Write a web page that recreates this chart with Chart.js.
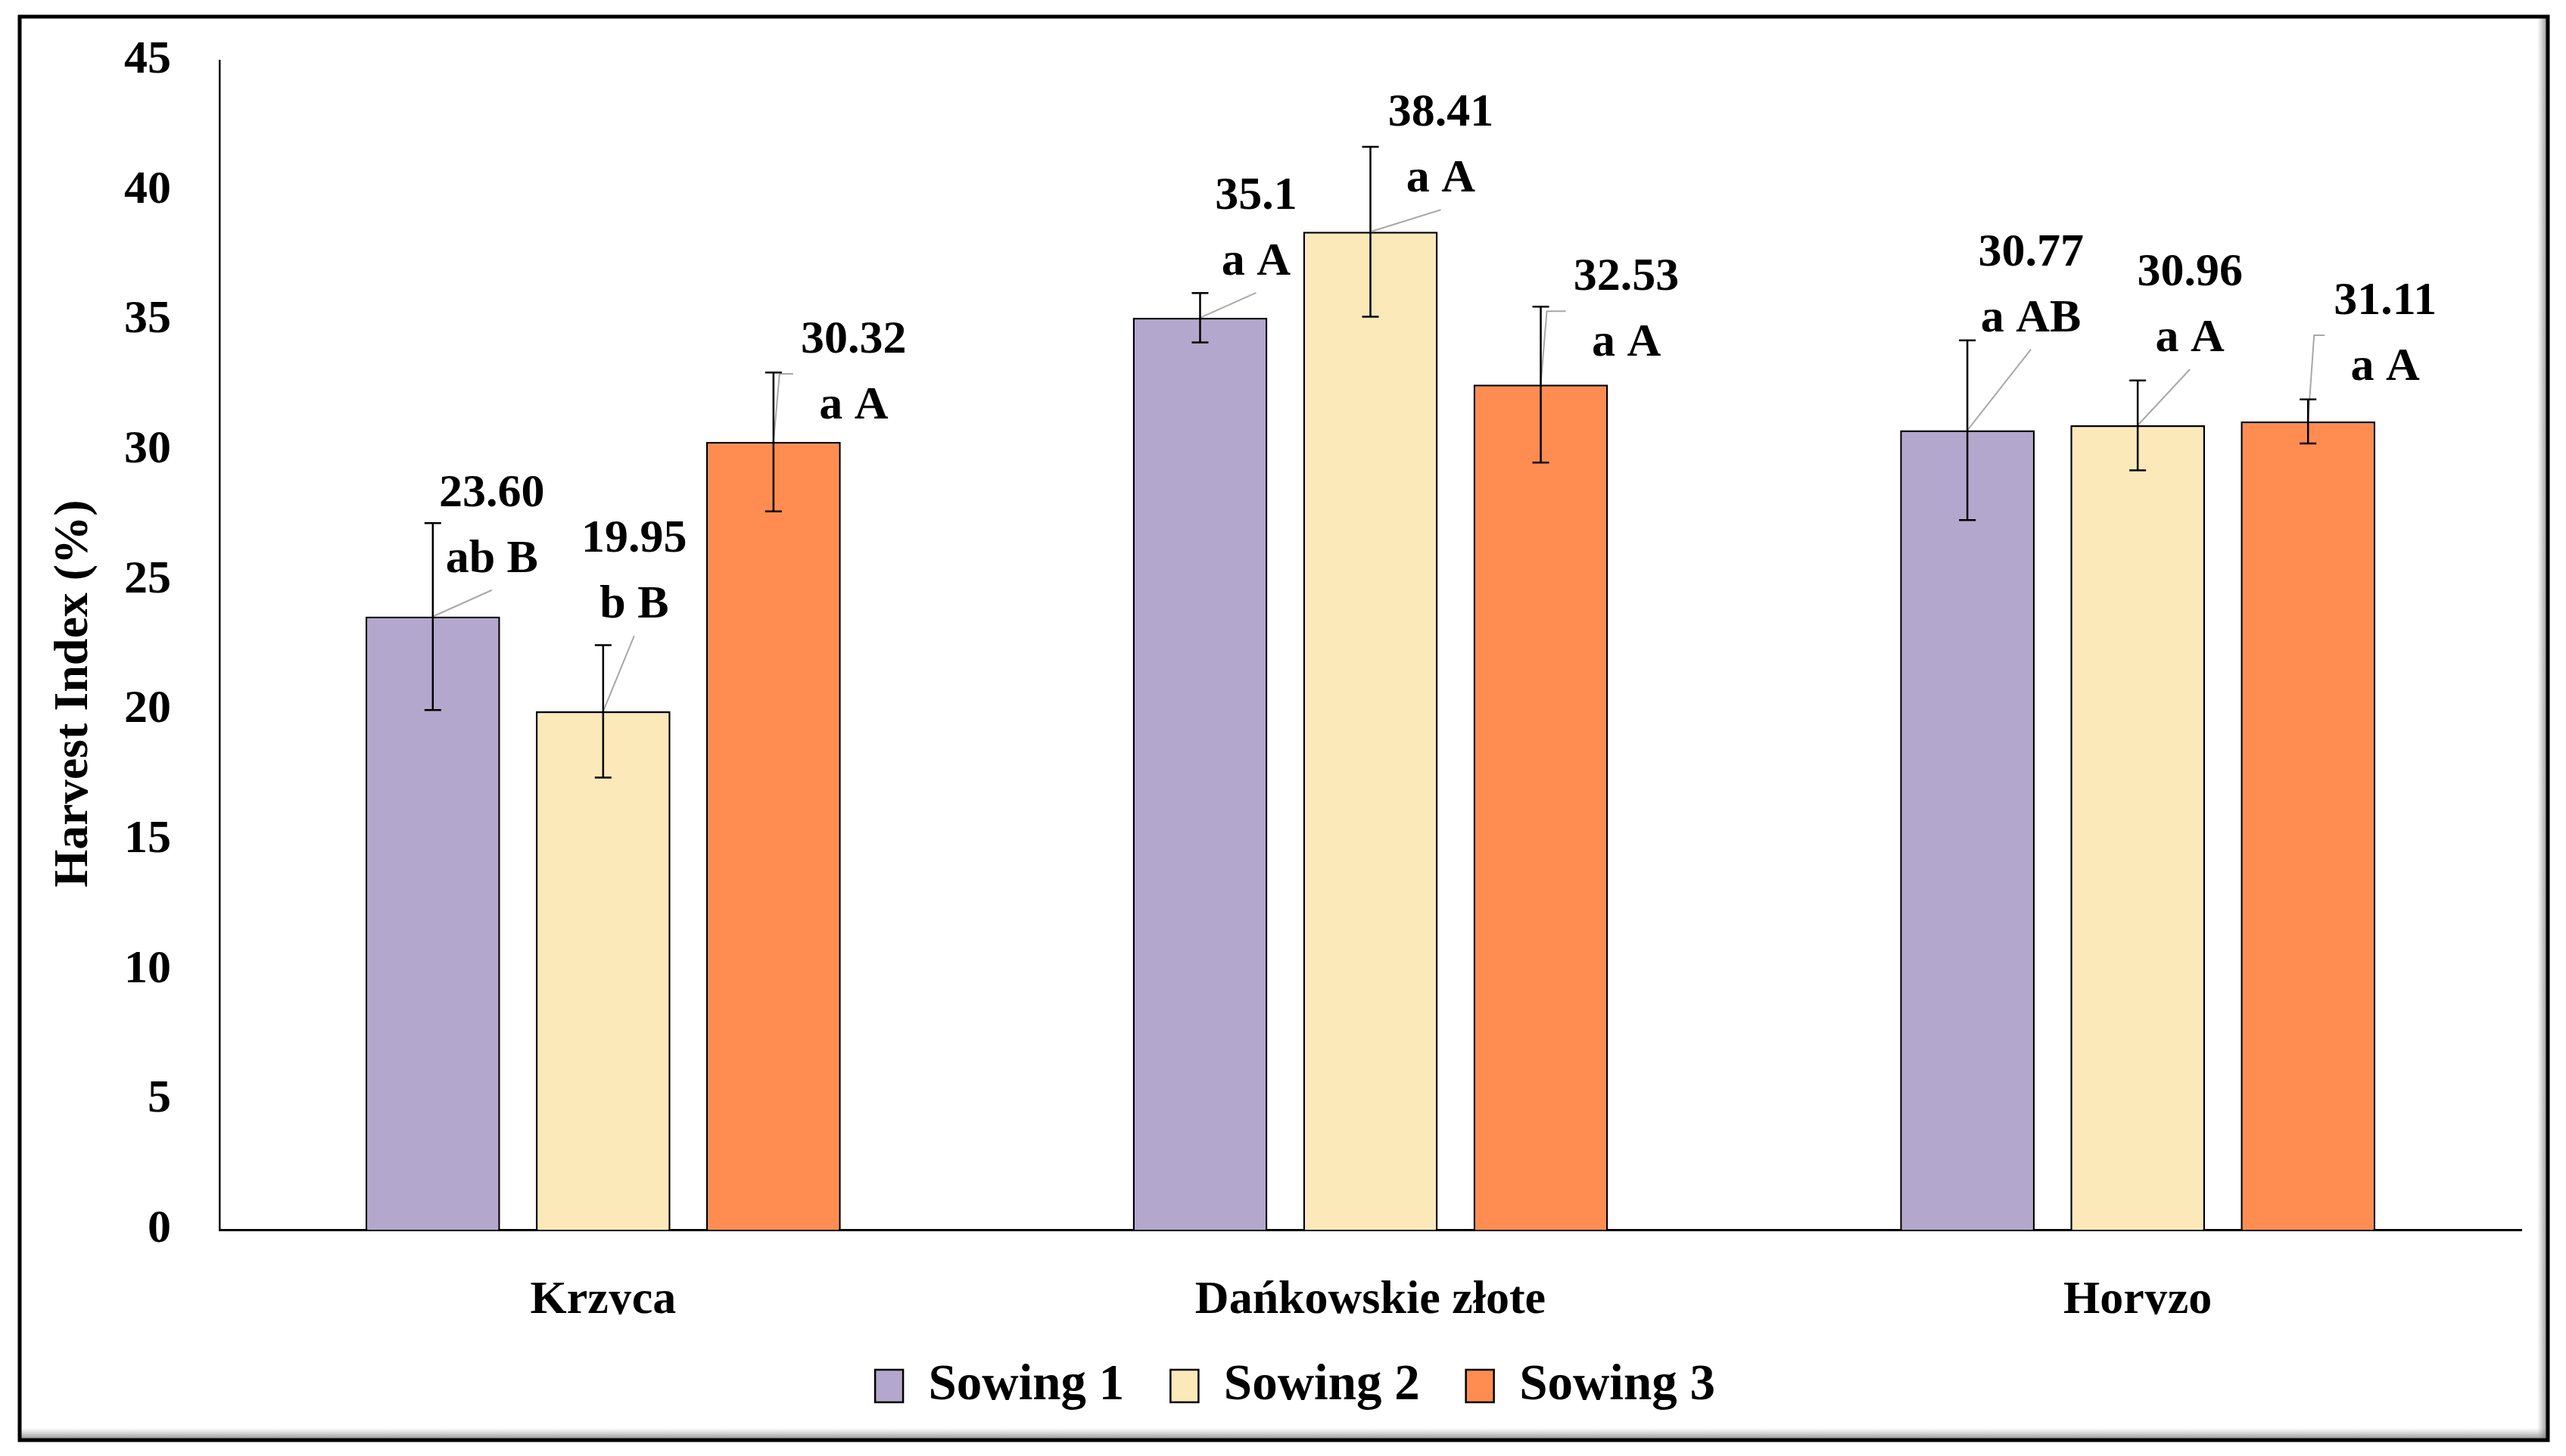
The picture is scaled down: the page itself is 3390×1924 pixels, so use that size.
<!DOCTYPE html>
<html>
<head>
<meta charset="utf-8">
<script src="https://cdn.jsdelivr.net/npm/chart.js@4.4.1/dist/chart.umd.min.js"></script>
<style>
html, body { margin: 0; padding: 0; background: #fff; }
</style>
</head>
<body>
<canvas id="myChart" width="3390" height="1924"></canvas>
<script>
var cultivars = ['Krzyca', 'Dańkowskie złote', 'Horyzo'];
var seriesNames = ['Sowing 1', 'Sowing 2', 'Sowing 3'];
var sowing1 = [23.60, 35.10, 30.77];
var sowing2 = [19.95, 38.41, 30.96];
var sowing3 = [30.32, 32.53, 31.11];
// error bar half lengths
var err1 = [3.6, 0.95, 3.46];
var err2 = [2.55, 3.27, 1.73];
var err3 = [2.67, 3.0, 0.85];
var valueText1 = ['23.60', '35.1', '30.77'];
var valueText2 = ['19.95', '38.41', '30.96'];
var valueText3 = ['30.32', '32.53', '31.11'];
var letters1 = ['ab B', 'a A', 'a AB'];
var letters2 = ['b B', 'a A', 'a A'];
var letters3 = ['a A', 'a A', 'a A'];
var yTicks = [0, 5, 10, 15, 20, 25, 30, 35, 40, 45];

var colors = ['rgb(180, 167, 205)', 'rgb(252, 233, 185)', 'rgb(255, 141, 82)'];
var fontFamily = "'Liberation Serif', 'DejaVu Serif', serif";

// label placement relative to bar top (px), and callout style
var labelShift = [
    [[78, -162, 'bottom'], [74, -160, 'bottom'], [84, -234, 'bottom']],
    [[41, -227, 'bottom'], [93, -156, 'bottom'], [69, -201, 'bottom']],
    [[106, -134, 'left'], [113, -141, 'left'], [102, -158, 'left']]
];

var errs = [err1, err2, err3];
var valueTexts = [valueText1, valueText2, valueText3];
var letters = [letters1, letters2, letters3];

var framePlugin = {
    id: 'frame',
    beforeDraw: function (chart) {
        var ctx = chart.ctx;
        ctx.save();
        ctx.fillStyle = '#fff';
        ctx.fillRect(0, 0, chart.width, chart.height);
        var l = 26, t = 22, r = 3366, b = 1903;
        // soft shadow inside bottom and right edge
        var gb = ctx.createLinearGradient(0, b - 16, 0, b);
        gb.addColorStop(0, 'rgba(160,160,160,0)');
        gb.addColorStop(1, 'rgba(120,120,120,0.9)');
        ctx.fillStyle = gb;
        ctx.fillRect(l, b - 16, r - l, 16);
        var gr = ctx.createLinearGradient(r - 14, 0, r, 0);
        gr.addColorStop(0, 'rgba(160,160,160,0)');
        gr.addColorStop(1, 'rgba(120,120,120,0.9)');
        ctx.fillStyle = gr;
        ctx.fillRect(r - 14, t, 14, b - t);
        ctx.strokeStyle = '#000';
        ctx.lineWidth = 5;
        ctx.strokeRect(l, t, r - l, b - t);
        ctx.restore();
    }
};

var annotatePlugin = {
    id: 'annotate',
    afterDatasetsDraw: function (chart) {
        var ctx = chart.ctx;
        var yScale = chart.scales.y;
        ctx.save();
        for (var d = 0; d < chart.data.datasets.length; d++) {
            var meta = chart.getDatasetMeta(d);
            var vals = chart.data.datasets[d].data;
            meta.data.forEach(function (bar, i) {
                var x = bar.x, y = bar.y;
                var s = labelShift[d][i];
                // callout line
                ctx.strokeStyle = '#a8a8a8';
                ctx.lineWidth = 2;
                ctx.beginPath();
                ctx.moveTo(x, y);
                if (s[2] === 'bottom') {
                    ctx.lineTo(x + s[0], y + s[1] + 127);
                } else {
                    ctx.lineTo(x + 8, y + s[1] + 44);
                    ctx.lineTo(x + s[0] - 80, y + s[1] + 44);
                }
                ctx.stroke();
                // error bar
                var top = yScale.getPixelForValue(vals[i] + errs[d][i]);
                var bot = yScale.getPixelForValue(vals[i] - errs[d][i]);
                ctx.strokeStyle = '#000';
                ctx.lineWidth = 2.5;
                ctx.beginPath();
                ctx.moveTo(x, top); ctx.lineTo(x, bot);
                ctx.moveTo(x - 11, top); ctx.lineTo(x + 11, top);
                ctx.moveTo(x - 11, bot); ctx.lineTo(x + 11, bot);
                ctx.stroke();
                // labels
                ctx.fillStyle = '#000';
                ctx.font = 'bold 62px ' + fontFamily;
                ctx.textAlign = 'center';
                ctx.textBaseline = 'middle';
                ctx.fillText(valueTexts[d][i], x + s[0], y + s[1]);
                ctx.fillText(letters[d][i], x + s[0], y + s[1] + 87);
            });
        }
        ctx.restore();
    }
};

var tickFont = { family: fontFamily, size: 62, weight: 'bold' };

var data = {
    labels: cultivars,
    datasets: [sowing1, sowing2, sowing3].map(function (vals, k) {
        return {
            label: seriesNames[k],
            data: vals,
            backgroundColor: colors[k],
            borderColor: '#000',
            borderWidth: 2.5,
            categoryPercentage: 0.666,
            barPercentage: 0.79
        };
    })
};

var config = {
    type: 'bar',
    data: data,
    options: {
        responsive: false,
        animation: false,
        devicePixelRatio: 1,
        layout: { padding: { left: 91, right: 59, top: 80, bottom: 49 } },
        plugins: {
            legend: {
                position: 'bottom',
                labels: {
                    font: { family: fontFamily, size: 67, weight: 'bold' },
                    color: '#000',
                    boxWidth: 37,
                    boxHeight: 43,
                    padding: 61
                }
            },
            tooltip: { enabled: false }
        },
        scales: {
            x: {
                grid: { display: false, drawTicks: false },
                border: { display: true, color: '#000', width: 3 },
                ticks: { font: tickFont, color: '#000', padding: 57 },
                afterFit: function (s) { s.height = 112; }
            },
            y: {
                min: 0,
                max: 45,
                afterBuildTicks: function (s) {
                    s.ticks = yTicks.map(function (v) { return { value: v }; });
                },
                grid: { display: false, drawTicks: false },
                border: { display: true, color: '#000', width: 2.5 },
                ticks: { font: tickFont, color: '#000', padding: 64 },
                title: {
                    display: true,
                    // trailing spaces push the visible title a little lower, as in the original
                    text: 'Harvest Index (%)\u00a0\u00a0\u00a0\u00a0\u00a0\u00a0\u00a0\u00a0',
                    font: { family: fontFamily, size: 64, weight: 'bold' },
                    color: '#000',
                    padding: { top: -31, bottom: 0 }
                },
                afterFit: function (s) {
                    s.width = 199;
                    s.paddingTop = 0;
                    s.paddingBottom = 0;
                }
            }
        }
    },
    plugins: [framePlugin, annotatePlugin]
};

new Chart(document.getElementById('myChart'), config);
</script>
</body>
</html>
